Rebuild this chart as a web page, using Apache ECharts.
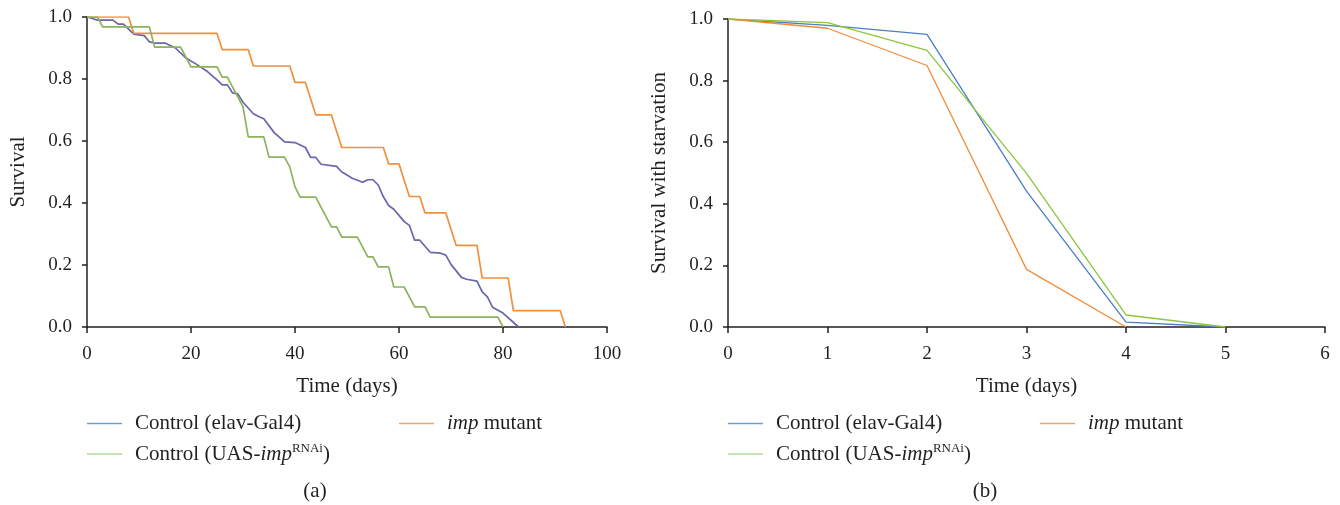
<!DOCTYPE html>
<html>
<head>
<meta charset="utf-8">
<script src="https://cdn.jsdelivr.net/npm/echarts@6/dist/echarts.min.js"></script>
<style>
  html, body { margin: 0; padding: 0; background: #fff; }
  #chart { width: 1340px; height: 505px; }
</style>
</head>
<body>
<div id="chart"></div>
<script>
var chart = echarts.init(document.getElementById("chart"));

// (a) lifespan, [day, survival]
var lifeElav = [[0,1],[1,0.995],[2,0.99],[5,0.99],[6,0.977],[7,0.977],[9,0.945],[11,0.94],[12,0.92],[13,0.916],[15,0.916],[17,0.9],[19,0.868],[21,0.848],[23,0.826],[25,0.797],[26,0.781],[27,0.781],[28,0.755],[29,0.752],[30,0.725],[32,0.688],[33,0.679],[34,0.672],[36,0.627],[38,0.597],[40,0.595],[42,0.579],[43,0.547],[44,0.547],[45,0.525],[48,0.518],[49,0.5],[50,0.49],[51,0.48],[53,0.467],[54,0.475],[55,0.475],[56,0.458],[57,0.42],[58,0.392],[59,0.38],[60,0.36],[61,0.34],[62,0.328],[63,0.28],[64,0.28],[66,0.241],[68,0.238],[69,0.232],[70,0.202],[72,0.16],[73,0.154],[75,0.148],[76,0.113],[77,0.097],[78,0.064],[80,0.045],[83,0]];
var lifeImp = [[0,1],[8,1],[9,0.947],[25,0.947],[26,0.895],[31,0.895],[32,0.842],[39,0.842],[40,0.789],[42,0.789],[44,0.684],[47,0.684],[49,0.579],[57,0.579],[58,0.526],[60,0.526],[62,0.421],[64,0.421],[65,0.368],[69,0.368],[71,0.263],[75,0.263],[76,0.158],[81,0.158],[82,0.053],[91,0.053],[92,0]];
var lifeUas = [[0,1],[2,1],[3,0.968],[12,0.968],[13,0.903],[18,0.903],[19,0.871],[20,0.839],[25,0.839],[26,0.806],[27,0.806],[28,0.774],[29,0.742],[30,0.71],[31,0.613],[34,0.613],[35,0.548],[38,0.548],[39,0.516],[40,0.452],[41,0.419],[44,0.419],[45,0.387],[46,0.355],[47,0.323],[48,0.323],[49,0.29],[52,0.29],[53,0.258],[54,0.226],[55,0.226],[56,0.194],[58,0.194],[59,0.129],[61,0.129],[62,0.097],[63,0.065],[65,0.065],[66,0.032],[79,0.032],[80,0]];

// (b) starvation
var starveDays = [0, 1, 2, 3, 4, 5];
var starveElav = [1.0, 0.979, 0.95, 0.441, 0.016, 0];
var starveImp = [1.0, 0.97, 0.849, 0.187, 0];
var starveUas = [1.0, 0.988, 0.898, 0.499, 0.039, 0];

var NAME_ELAV = "Control (elav-Gal4)";
var NAME_IMP = "imp mutant";
var NAME_UAS = "Control (UAS-imp RNAi)";

var FONT = "Liberation Serif";
var INK = "#231f20";

function pairs(xs, ys) {
    return ys.map(function (y, i) { return [xs[i], y]; });
}

function legendText(name) {
    if (name === NAME_IMP) return "{i|imp}{n| mutant}";
    if (name === NAME_UAS) return "{n|Control (UAS-}{i|imp}{s|RNAi}{n|)}";
    return "{n|" + name + "}";
}

var rich = {
    n: { fontFamily: FONT, fontSize: 21, color: INK, lineHeight: 24 },
    i: { fontFamily: FONT, fontSize: 21, color: INK, fontStyle: "italic", lineHeight: 24 },
    s: { fontFamily: FONT, fontSize: 13, color: INK, lineHeight: 15, verticalAlign: "top" }
};

function legendAt(left, top, name, color) {
    return {
        left: left, top: top,
        icon: "rect", itemWidth: 35, itemHeight: 1.6, itemGap: 0,
        selectedMode: false,
        formatter: legendText,
        textStyle: { rich: rich, padding: [0, 0, 0, 8] },
        data: [{ name: name, itemStyle: { color: color } }]
    };
}

function xAx(grid, max, interval, name) {
    return {
        gridIndex: grid, type: "value", min: 0, max: max, interval: interval,
        name: name, nameLocation: "middle", nameGap: 49,
        nameTextStyle: { fontFamily: FONT, fontSize: 21, color: INK },
        axisLine: { lineStyle: { color: INK, width: 1.5 } },
        axisTick: { length: 6, lineStyle: { color: INK, width: 1.5 } },
        axisLabel: { fontFamily: FONT, fontSize: 19, color: INK, margin: 18 },
        splitLine: { show: false }
    };
}

function yAx(grid, name, gap) {
    return {
        gridIndex: grid, type: "value", min: 0, max: 1, interval: 0.2,
        name: name, nameLocation: "middle", nameGap: gap,
        nameTextStyle: { fontFamily: FONT, fontSize: 21, color: INK },
        axisLine: { show: true, lineStyle: { color: INK, width: 1.5 } },
        axisTick: { show: true, length: 5, lineStyle: { color: INK, width: 1.5 } },
        axisLabel: { fontFamily: FONT, fontSize: 19, color: INK, margin: 15,
            formatter: function (v) { return v.toFixed(1); } },
        splitLine: { show: false }
    };
}

function line(name, data, x, color, w) {
    return {
        name: name, type: "line", xAxisIndex: x, yAxisIndex: x,
        data: data, symbol: "none", animation: false,
        lineStyle: { color: color, width: w }, itemStyle: { color: color }
    };
}

var option = {
    backgroundColor: "#fff",
    animation: false,
    title: [
        { text: "(a)", left: 310, top: 476, textAlign: "center",
          textStyle: { fontFamily: FONT, fontSize: 21, fontWeight: "normal", color: INK } },
        { text: "(b)", left: 980, top: 476, textAlign: "center",
          textStyle: { fontFamily: FONT, fontSize: 21, fontWeight: "normal", color: INK } }
    ],
    legend: [
        legendAt(82, 408, NAME_ELAV, "#6f9fd8"),
        legendAt(394, 408, NAME_IMP, "#f5a25e"),
        legendAt(82, 437, NAME_UAS, "#b5d89a"),
        legendAt(723, 408, NAME_ELAV, "#6f9fd8"),
        legendAt(1035, 408, NAME_IMP, "#f5a25e"),
        legendAt(723, 437, NAME_UAS, "#b5d89a")
    ],
    grid: [
        { left: 87, top: 17, width: 520, height: 310 },
        { left: 728, top: 19, width: 597, height: 308 }
    ],
    xAxis: [xAx(0, 100, 20, "Time (days)"), xAx(1, 6, 1, "Time (days)")],
    yAxis: [yAx(0, "Survival", 58), yAx(1, "Survival with starvation", 58)],
    series: [
        line(NAME_ELAV, lifeElav, 0, "#6767aa", 1.7),
        line(NAME_IMP, lifeImp, 0, "#f0903c", 1.7),
        line(NAME_UAS, lifeUas, 0, "#8db25a", 1.7),
        line(NAME_ELAV, pairs(starveDays, starveElav), 1, "#4a7fc1", 1.3),
        line(NAME_IMP, pairs(starveDays, starveImp), 1, "#f08c3a", 1.3),
        line(NAME_UAS, pairs(starveDays, starveUas), 1, "#8cc63e", 1.3)
    ]
};
chart.setOption(option);
</script>
</body>
</html>
